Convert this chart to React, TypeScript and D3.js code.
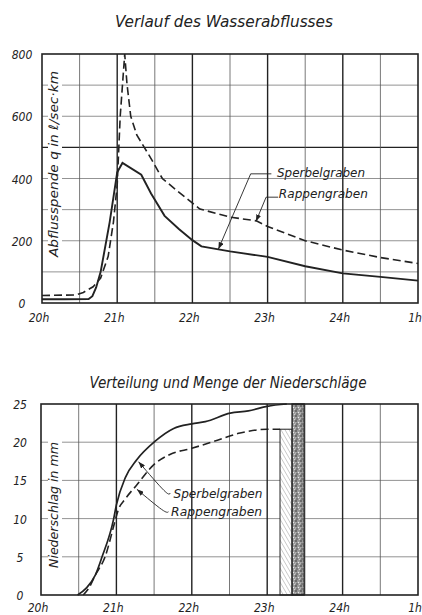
import React from "react";
import * as d3 from "d3";

// time axis: hours after 20h
const hourLabels = ["20h", "21h", "22h", "23h", "24h", "1h"];
const qTicks = [0, 200, 400, 600, 800];
const nTicks = [0, 5, 10, 15, 20, 25];

// Abflusspende q (l/sec km), [hours after 20h, value]
const sperbelQ: [number, number][] = [
  [0, 12], [0.3, 12], [0.62, 13], [0.67, 22], [0.72, 50], [0.78, 100],
  [0.9, 260], [1.0, 420], [1.07, 450], [1.32, 412], [1.45, 352],
  [1.63, 280], [1.82, 238], [2.0, 202], [2.12, 182], [2.5, 166],
  [3.0, 148], [3.5, 118], [4.0, 95], [4.5, 84], [5.0, 72]
];
const rappenQ: [number, number][] = [
  [0, 24], [0.45, 26], [0.55, 34], [0.68, 52], [0.78, 80], [0.88, 150],
  [0.95, 260], [1.0, 380], [1.04, 600], [1.1, 800], [1.13, 704],
  [1.18, 600], [1.26, 540], [1.36, 500], [1.46, 460], [1.6, 400],
  [1.8, 360], [2.1, 302], [2.5, 276], [2.85, 264], [3.0, 246],
  [3.5, 200], [4.0, 170], [4.5, 146], [5.0, 127]
];

// Niederschlag (mm), cumulative
const sperbelN: [number, number][] = [
  [0.485, 0], [0.6, 0.9], [0.72, 2.6], [0.81, 5], [0.96, 9.8], [1.0, 11.8],
  [1.12, 15.4], [1.27, 17.7], [1.51, 20.1], [1.76, 21.8], [2.0, 22.4],
  [2.18, 22.7], [2.51, 23.8], [2.75, 24.1], [3.0, 24.7], [3.26, 25]
];
const rappenN: [number, number][] = [
  [0.56, 0], [0.64, 1], [0.72, 2.6], [0.85, 5], [0.98, 9.6], [1.02, 11],
  [1.12, 12.6], [1.27, 14.4], [1.49, 17.0], [1.71, 18.4], [2.0, 19.2],
  [2.29, 20.1], [2.64, 21.2], [3.0, 21.7], [3.17, 21.7]
];

// total precipitation bars: [from, to, total mm]
const rainTotals: { name: string; from: number; to: number; total: number }[] = [
  { name: "Rappengraben", from: 3.17, to: 3.33, total: 21.7 },
  { name: "Sperbelgraben", from: 3.33, to: 3.49, total: 25 }
];

const F = "'DejaVu Sans Condensed', 'DejaVu Sans', sans-serif";
const INK = "#222";

export default function App() {
  const W = 422;
  const H = 615;

  const xTop = d3.scaleLinear().domain([0, 5]).range([42, 418]);
  const yTop = d3.scaleLinear().domain([0, 800]).range([303, 54]);
  const xBot = d3.scaleLinear().domain([0, 5]).range([41, 418]);
  const yBot = d3.scaleLinear().domain([0, 25]).range([595, 404]);

  const topLine = d3
    .line<[number, number]>()
    .x(d => xTop(d[0]))
    .y(d => yTop(d[1]));
  const botLine = d3
    .line<[number, number]>()
    .x(d => xBot(d[0]))
    .y(d => yBot(d[1]))
    .curve(d3.curveMonotoneX);

  const halfHours = d3.range(0.5, 5, 0.5);

  const leaderTop = d3.line<[number, number]>().x(d => xTop(d[0])).y(d => yTop(d[1]));
  const leaderBot = d3
    .line<[number, number]>()
    .x(d => xBot(d[0]))
    .y(d => yBot(d[1]))
    .curve(d3.curveNatural);

  const grid = (
    x: d3.ScaleLinear<number, number>,
    y: d3.ScaleLinear<number, number>,
    hLines: number[],
    bold?: number
  ) => (
    <g>
      {hLines.map(v => (
        <line
          key={"h" + v}
          x1={x(0)}
          x2={x(5)}
          y1={y(v)}
          y2={y(v)}
          stroke={v === bold ? INK : "#777"}
          strokeWidth={v === bold ? 1.4 : 0.8}
        />
      ))}
      {halfHours.map(t => (
        <line
          key={"v" + t}
          x1={x(t)}
          x2={x(t)}
          y1={y.range()[0]}
          y2={y.range()[1]}
          stroke={Number.isInteger(t) ? INK : "#555"}
          strokeWidth={Number.isInteger(t) ? 1.4 : 0.8}
        />
      ))}
    </g>
  );

  const frame = (x: d3.ScaleLinear<number, number>, y: d3.ScaleLinear<number, number>) => (
    <rect
      x={x(0)}
      y={y.range()[1]}
      width={x(5) - x(0)}
      height={y.range()[0] - y.range()[1]}
      fill="none"
      stroke={INK}
      strokeWidth={1.6}
    />
  );

  const textStyle = { fontFamily: F, fontStyle: "italic" as const, fill: INK };

  return (
    <svg
      width={W}
      height={H}
      viewBox={`0 0 ${W} ${H}`}
      style={{ position: "absolute", left: 0, top: 0, background: "#fff" }}
    >
      <defs>
        <marker
          id="arr"
          markerWidth={7}
          markerHeight={5}
          refX={7}
          refY={2.5}
          orient="auto"
          markerUnits="userSpaceOnUse"
        >
          <path d="M0,0 L7,2.5 L0,5 z" fill={INK} />
        </marker>
        <pattern id="hatch" width={3.5} height={3.5} patternUnits="userSpaceOnUse" patternTransform="rotate(-30)">
          <rect width={3.5} height={3.5} fill="#fff" />
          <line x1={0} y1={0} x2={0} y2={3.5} stroke="#777" strokeWidth={0.7} />
        </pattern>
        <pattern id="stipple" width={5} height={5} patternUnits="userSpaceOnUse">
          <rect width={5} height={5} fill="#999" />
          <circle cx={1} cy={1} r={0.8} fill="#333" />
          <circle cx={3.5} cy={2.5} r={0.7} fill="#e6e6e6" />
          <circle cx={2} cy={4} r={0.7} fill="#444" />
          <circle cx={4.3} cy={4.5} r={0.5} fill="#eee" />
          <circle cx={0.5} cy={3} r={0.5} fill="#ccc" />
        </pattern>
      </defs>

      {/* ---------- Verlauf des Wasserabflusses ---------- */}
      <text x={224} y={27} textAnchor="middle" fontSize={16} textLength={218} lengthAdjust="spacingAndGlyphs" {...textStyle}>
        Verlauf des Wasserabflusses
      </text>
      {grid(xTop, yTop, d3.range(100, 800, 100), 500)}
      <rect x={48} y={70} width={14} height={188} fill="#fff" />
      <text
        transform={`translate(58,164) rotate(-90)`}
        textAnchor="middle"
        fontSize={13}
        textLength={186}
        lengthAdjust="spacingAndGlyphs"
        {...textStyle}
      >
        Abflusspende q in ℓ/sec·km
      </text>
      <path d={topLine(rappenQ)!} fill="none" stroke={INK} strokeWidth={1.6} strokeDasharray="8 4" />
      <path d={topLine(sperbelQ)!} fill="none" stroke={INK} strokeWidth={1.9} />
      {frame(xTop, yTop)}
      {qTicks.map(v => (
        <text key={v} x={22} y={yTop(v) + 5} textAnchor="middle" fontSize={12} {...textStyle}>
          {v}
        </text>
      ))}
      {hourLabels.map((l, i) => (
        <text key={l} x={xTop(i) - 3} y={322} textAnchor="middle" fontSize={12} {...textStyle}>
          {l}
        </text>
      ))}
      <path
        d={leaderTop([[3.05, 415], [2.775, 415], [2.345, 173]])!}
        fill="none"
        stroke={INK}
        strokeWidth={0.9}
        markerEnd="url(#arr)"
      />
      <path
        d={leaderTop([[3.14, 340], [2.98, 340], [2.845, 262]])!}
        fill="none"
        stroke={INK}
        strokeWidth={0.9}
        markerEnd="url(#arr)"
      />
      <text x={xTop(3.125)} y={yTop(406)} fontSize={13} textLength={88} lengthAdjust="spacingAndGlyphs" {...textStyle}>
        Sperbelgraben
      </text>
      <text x={xTop(3.15)} y={yTop(336)} fontSize={13} textLength={89} lengthAdjust="spacingAndGlyphs" {...textStyle}>
        Rappengraben
      </text>

      {/* ---------- Verteilung und Menge der Niederschläge ---------- */}
      <text x={228} y={388} textAnchor="middle" fontSize={16} textLength={277} lengthAdjust="spacingAndGlyphs" {...textStyle}>
        Verteilung und Menge der Niederschläge
      </text>
      {grid(xBot, yBot, d3.range(5, 25, 5))}
      <rect x={48} y={440} width={14} height={130} fill="#fff" />
      <text
        transform={`translate(58,505) rotate(-90)`}
        textAnchor="middle"
        fontSize={13}
        textLength={126}
        lengthAdjust="spacingAndGlyphs"
        {...textStyle}
      >
        Niederschlag in mm
      </text>
      {rainTotals.map((b, i) => (
        <rect
          key={b.name}
          x={xBot(b.from)}
          y={yBot(b.total)}
          width={xBot(b.to) - xBot(b.from)}
          height={yBot(0) - yBot(b.total)}
          fill={i === 0 ? "url(#hatch)" : "url(#stipple)"}
          stroke={INK}
          strokeWidth={i === 0 ? 1 : 1.4}
        />
      ))}
      <path d={botLine(rappenN)!} fill="none" stroke={INK} strokeWidth={1.6} strokeDasharray="8 4" />
      <path d={botLine(sperbelN)!} fill="none" stroke={INK} strokeWidth={1.7} />
      {frame(xBot, yBot)}
      {nTicks.map(v => (
        <text key={v} x={20} y={yBot(v) + 5} textAnchor="middle" fontSize={12} {...textStyle}>
          {v}
        </text>
      ))}
      {hourLabels.map((l, i) => (
        <text key={l} x={xBot(i) - 3} y={612} textAnchor="middle" fontSize={12} {...textStyle}>
          {l}
        </text>
      ))}
      <path
        d={leaderBot([[1.713, 13.35], [1.63, 13.7], [1.293, 17.45]])!}
        fill="none"
        stroke={INK}
        strokeWidth={0.9}
        markerEnd="url(#arr)"
      />
      <path
        d={leaderBot([[1.691, 10.9], [1.6, 11.2], [1.272, 13.83]])!}
        fill="none"
        stroke={INK}
        strokeWidth={0.9}
        markerEnd="url(#arr)"
      />
      <text x={xBot(1.757)} y={yBot(12.7)} fontSize={13} textLength={89} lengthAdjust="spacingAndGlyphs" {...textStyle}>
        Sperbelgraben
      </text>
      <text x={xBot(1.725)} y={yBot(10.35)} fontSize={13} textLength={91} lengthAdjust="spacingAndGlyphs" {...textStyle}>
        Rappengraben
      </text>
    </svg>
  );
}
